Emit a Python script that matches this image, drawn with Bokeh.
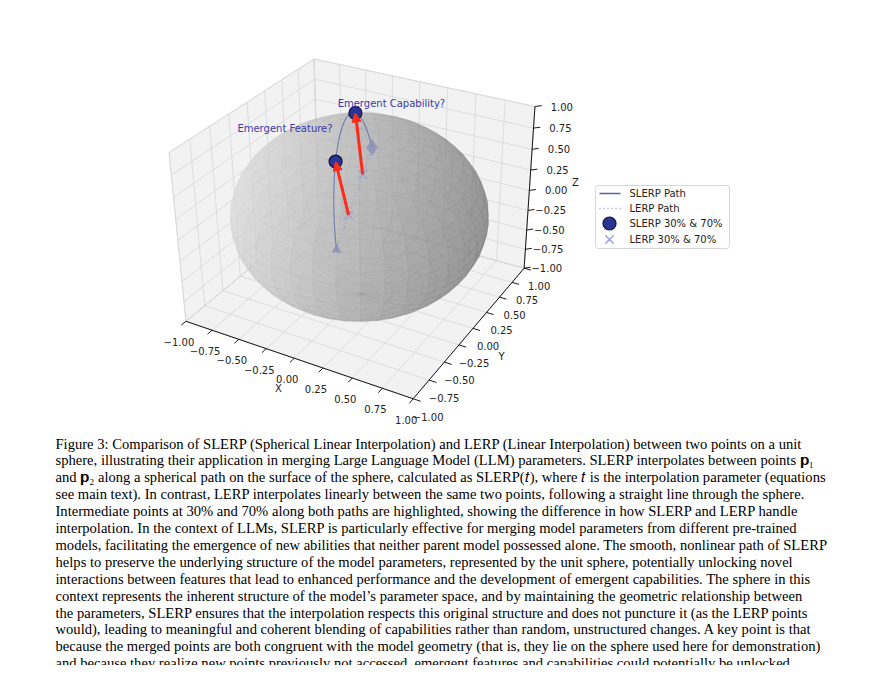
import numpy as np
from bokeh.plotting import figure
from bokeh.models import Range1d, Arrow, NormalHead
from bokeh.core.properties import value
from bokeh.embed import file_html
from bokeh.resources import INLINE

# data
p1 = np.array([0.32, -0.88, 0.33])
p2 = np.array([-0.39, 0.90, 0.12])
t_marks = [0.3, 0.7]
ticks = [-1.0, -0.75, -0.5, -0.25, 0.0, 0.25, 0.5, 0.75, 1.0]
tick_labels = ["\u22121.00", "\u22120.75", "\u22120.50", "\u22120.25", "0.00", "0.25", "0.50", "0.75", "1.00"]
legend_labels = ["SLERP Path", "LERP Path", "SLERP 30% & 70%", "LERP 30% & 70%"]
caption = [
    "Figure 3: Comparison of SLERP (Spherical Linear Interpolation) and LERP (Linear Interpolation) between two points on a unit",
    "sphere, illustrating their application in merging Large Language Model (LLM) parameters. SLERP interpolates between points \U0001D429\u2081",
    "and \U0001D429\u2082 along a spherical path on the surface of the sphere, calculated as SLERP(\U0001D461), where \U0001D461 is the interpolation parameter (equations",
    "see main text). In contrast, LERP interpolates linearly between the same two points, following a straight line through the sphere.",
    "Intermediate points at 30% and 70% along both paths are highlighted, showing the difference in how SLERP and LERP handle",
    "interpolation. In the context of LLMs, SLERP is particularly effective for merging model parameters from different pre-trained",
    "models, facilitating the emergence of new abilities that neither parent model possessed alone. The smooth, nonlinear path of SLERP",
    "helps to preserve the underlying structure of the model parameters, represented by the unit sphere, potentially unlocking novel",
    "interactions between features that lead to enhanced performance and the development of emergent capabilities. The sphere in this",
    "context represents the inherent structure of the model\u2019s parameter space, and by maintaining the geometric relationship between",
    "the parameters, SLERP ensures that the interpolation respects this original structure and does not puncture it (as the LERP points",
    "would), leading to meaningful and coherent blending of capabilities rather than random, unstructured changes. A key point is that",
    "because the merged points are both congruent with the model geometry (that is, they lie on the sphere used here for demonstration)",
    "and because they realize new points previously not accessed, emergent features and capabilities could potentially be unlocked.",
]

p1 = p1 / np.linalg.norm(p1)
p2 = p2 / np.linalg.norm(p2)

# 3d view like matplotlib default (azim -60, elev 30)
AZ, EL, D = np.radians(-60), np.radians(30), 9.6
SANS = value("DejaVu Sans")


def view(x, y, z):
    x, y, z = np.asarray(x, float), np.asarray(y, float), 0.75 * np.asarray(z, float)
    u = -x * np.sin(AZ) + y * np.cos(AZ)
    v = -x * np.cos(AZ) * np.sin(EL) - y * np.sin(AZ) * np.sin(EL) + z * np.cos(EL)
    w = x * np.cos(EL) * np.cos(AZ) + y * np.cos(EL) * np.sin(AZ) + z * np.sin(EL)
    s = D / (D - w)
    return u * s, v * s, w


# calibrate view -> page pixels from the box corners
corners = np.array([[1, -1, -1], [-1, -1, -1], [1, 1, -1], [1, 1, 1], [-1, 1, 1], [-1, 1, -1]])
corner_px = np.array([[410, 391], [186, 318], [530, 269], [530, 106], [316, 48], [316, 230]])
cu, cv, _ = view(corners[:, 0], corners[:, 1], corners[:, 2])
A = np.column_stack([cu, cv, np.ones(len(cu))])
coef, *_ = np.linalg.lstsq(A, corner_px, rcond=None)


def P(x, y, z):
    u, v, _ = view(x, y, z)
    M = np.column_stack([np.atleast_1d(u), np.atleast_1d(v), np.ones(np.size(u))])
    r = M @ coef
    return r[:, 0], r[:, 1]


p = figure(width=869, height=665, output_backend="svg", toolbar_location=None,
           x_range=Range1d(0, 869), y_range=Range1d(665, 0), min_border=0)
p.axis.visible = False
p.grid.visible = False
p.outline_line_color = None

GRID = "#d8d8d8"
PANE = "#f2f2f2"

# panes
sq = np.array([[-1, -1], [1, -1], [1, 1], [-1, 1]])
for pts in ([(a, b, -1) for a, b in sq], [(a, 1, b) for a, b in sq], [(-1, a, b) for a, b in sq]):
    pts = np.array(pts)
    px, py = P(pts[:, 0], pts[:, 1], pts[:, 2])
    p.patch(list(px), list(py), fill_color=PANE, line_color=GRID, line_width=0.8)

# grid lines
gx, gy = [], []
for t in ticks:
    for a, b in [((t, -1, -1), (t, 1, -1)), ((-1, t, -1), (1, t, -1)),
                 ((t, 1, -1), (t, 1, 1)), ((-1, 1, t), (1, 1, t)),
                 ((-1, t, -1), (-1, t, 1)), ((-1, -1, t), (-1, 1, t))]:
        px, py = P([a[0], b[0]], [a[1], b[1]], [a[2], b[2]])
        gx.append(list(px))
        gy.append(list(py))
p.multi_line(gx, gy, line_color=GRID, line_width=0.8)

# axes lines with ticks
ax_lines = [((-1, -1, -1), (1, -1, -1)), ((1, -1, -1), (1, 1, -1)), ((1, 1, -1), (1, 1, 1))]
for a, b in ax_lines:
    px, py = P([a[0], b[0]], [a[1], b[1]], [a[2], b[2]])
    p.line(list(px), list(py), line_color="black", line_width=0.9)

tx, ty = [], []
lab = {"x": ([], [], []), "y": ([], [], []), "z": ([], [], [])}
for t, s in zip(ticks, tick_labels):
    for name, a, b, off in [("x", (t, -1, -1), (t, -1.06, -1), (-7, 21)),
                            ("y", (1, t, -1), (1.06, t, -1), (15, 18)),
                            ("z", (1, 1, t), (1.04, 1.04, t), (38, 0))]:
        px, py = P([a[0], b[0]], [a[1], b[1]], [a[2], b[2]])
        tx.append(list(px))
        ty.append(list(py))
        lab[name][0].append(px[0] + off[0])
        lab[name][1].append(py[0] + off[1])
        lab[name][2].append(s)
p.multi_line(tx, ty, line_color="black", line_width=0.9)
for name, align in [("x", "center"), ("y", "center"), ("z", "right")]:
    p.text(lab[name][0], lab[name][1], text=lab[name][2], text_font_size="10px",
           text_align=align, text_baseline="middle", text_color="#222222", text_font=SANS)
p.text([278, 501, 575], [388, 356, 182], text=["X", "Y", "Z"], text_font_size="10px",
       text_align="center", text_baseline="middle", text_color="#222222", text_font=SANS)

# sphere
nu, nv = 36, 24
th = np.linspace(0, 2 * np.pi, nu + 1)
ph = np.linspace(0, np.pi, nv + 1)
faces = []
for i in range(nu):
    for j in range(nv):
        qs = [(th[i], ph[j]), (th[i + 1], ph[j]), (th[i + 1], ph[j + 1]), (th[i], ph[j + 1])]
        xs = np.array([np.cos(a) * np.sin(b) for a, b in qs])
        ys = np.array([np.sin(a) * np.sin(b) for a, b in qs])
        zs = np.array([np.cos(b) for a, b in qs])
        cx, cy, cz = xs.mean(), ys.mean(), zs.mean()
        _, _, depth = view(cx, cy, cz)
        shade = (1 - (-cx * np.sin(AZ) + cy * np.cos(AZ))) / 2 * 0.8 + 0.2 * (cz + 1) / 2
        g = int(105 + 125 * shade)
        px, py = P(xs, ys, zs)
        faces.append((float(depth), list(px), list(py), "#%02x%02x%02x" % (g, g, g)))
faces.sort(key=lambda f: f[0])
p.patches([f[1] for f in faces], [f[2] for f in faces], fill_color=[f[3] for f in faces],
          fill_alpha=0.5, line_color=[f[3] for f in faces], line_alpha=0.25, line_width=0.5)

# paths
omega = np.arccos(np.clip(np.dot(p1, p2), -1, 1))


def slerp(t):
    return (np.sin((1 - t) * omega) * p1 + np.sin(t * omega) * p2) / np.sin(omega)


def lerp(t):
    return (1 - t) * p1 + t * p2


ts = np.linspace(0, 1, 100)
sl = np.array([slerp(t) for t in ts])
le = np.array([lerp(t) for t in ts])
lx, ly = P(le[:, 0], le[:, 1], le[:, 2])
p.line(list(lx), list(ly), line_color="#8f95d8", line_dash="1 3", line_width=1.4, line_alpha=0.8)
sx, sy = P(sl[:, 0], sl[:, 1], sl[:, 2])
p.line(list(sx), list(sy), line_color="#5c63a8", line_width=1.2, line_alpha=0.7)

ex, ey = P([p1[0], p2[0]], [p1[1], p2[1]], [p1[2], p2[2]])
p.scatter([ex[0]], [ey[0]], marker="triangle", size=10, fill_color="#8a8fb8", line_color=None, alpha=0.8)
p.scatter([ex[1]], [ey[1]], marker="diamond", size=17, fill_color="#8a8fb8", line_color=None, alpha=0.8)

sm = np.array([slerp(t) for t in t_marks])
lm = np.array([lerp(t) for t in t_marks])
smx, smy = P(sm[:, 0], sm[:, 1], sm[:, 2])
lmx, lmy = P(lm[:, 0], lm[:, 1], lm[:, 2])
p.scatter(list(lmx), list(lmy), marker="x", size=12, line_color="#8f95d8", line_width=1.2, alpha=0.7)
for k in range(len(t_marks)):
    p.add_layout(Arrow(end=NormalHead(size=9, fill_color="#ff2a1a", line_color="#ff2a1a"),
                       x_start=lmx[k], y_start=lmy[k], x_end=smx[k], y_end=smy[k],
                       line_color="#ff2a1a", line_width=3))
p.scatter(list(smx), list(smy), marker="circle", size=13, fill_color="#283593", line_color="#111133", line_width=1.2)

p.text([smx[1] + 36, smx[0] - 3], [smy[1] - 9, smy[0] - 33], text=["Emergent Capability?", "Emergent Feature?"],
       text_font_size="10px", text_align=["center", "right"], text_baseline="middle",
       text_color="#3b3ba8", text_font=SANS)

# legend
p.quad(left=[595], right=[729], top=[185], bottom=[248], fill_color="white", fill_alpha=0.8,
       line_color="#cccccc", line_width=0.8, border_radius=3)
ly_ = [193, 208, 223, 239]
p.line([599, 620], [ly_[0], ly_[0]], line_color="#5c63a8", line_width=1.4)
p.line([599, 620], [ly_[1], ly_[1]], line_color="#8f95d8", line_dash="1 3", line_width=1.4)
p.scatter([609], [ly_[2]], marker="circle", size=13, fill_color="#283593", line_color="#111133", line_width=1.2)
p.scatter([609], [ly_[3]], marker="x", size=12, line_color="#8f95d8", line_width=1.2)
p.text([629] * 4, ly_, text=legend_labels, text_font_size="10px", text_baseline="middle",
       text_color="#222222", text_font=SANS)

# caption
cy = [443 + 16.9 * i for i in range(len(caption))]
p.text([55] * len(caption), cy, text=caption, text_font_size="14.6px", text_baseline="middle",
       text_color="black", text_font=value("Liberation Serif"))

open("out.html", "w").write(file_html(p, INLINE))
